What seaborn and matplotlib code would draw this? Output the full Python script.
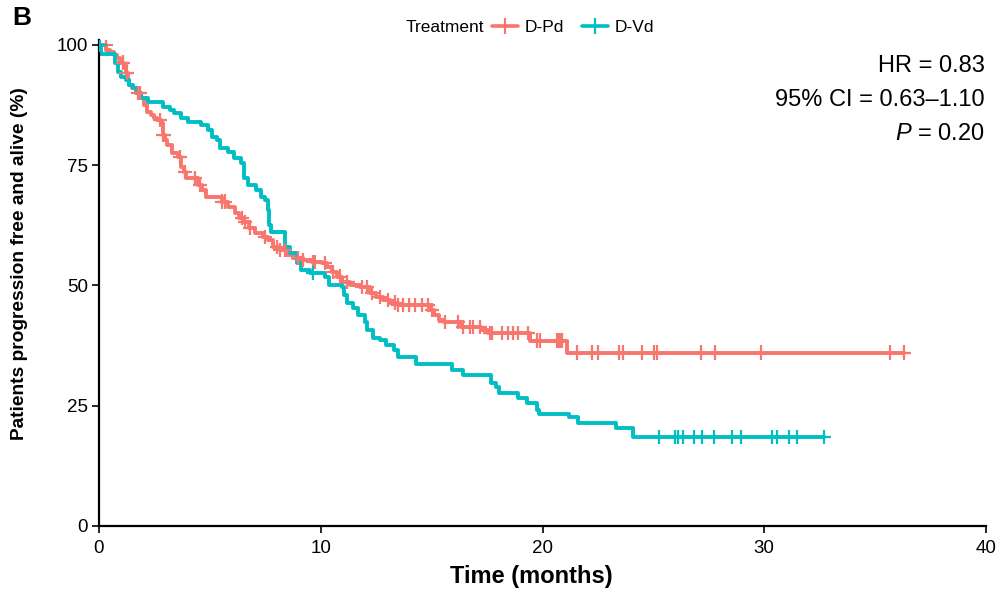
import numpy as np
import pandas as pd
import matplotlib
matplotlib.use("Agg")
import matplotlib.pyplot as plt
import seaborn as sns
from matplotlib.lines import Line2D

# ---------------- data ----------------
groups = ["D-Pd", "D-Vd"]
colors = {"D-Pd": "#F8766D", "D-Vd": "#00BFC4"}

# D-Pd step curve: time of each step (months) and survival after it (%)
pd_time = [0.0, 0.32, 0.5, 0.68, 0.81, 0.95, 1.13, 1.22, 1.29, 1.35, 1.49, 1.67, 1.89,
           2.03, 2.16, 2.34, 2.48, 2.62, 2.8, 2.89, 2.98, 3.07, 3.29, 3.56, 3.7, 3.83,
           3.92, 4.46, 4.64, 4.83, 5.55, 5.82, 6.13, 6.31, 6.54, 6.76, 7.03, 7.4, 7.62,
           7.85, 8.16, 8.43, 8.75, 9.15, 9.6, 10.06, 10.28, 10.5, 10.73, 10.96, 11.32,
           11.77, 12.22, 12.49, 12.81, 13.12, 13.48, 14.93, 15.11, 15.33, 15.56, 16.32,
           17.23, 17.54, 19.44, 21.1, 36.3]
pd_surv = [100.0, 99.0, 98.5, 97.9, 97.3, 96.3, 95.8, 94.2, 92.7, 91.7, 91.0, 90.0, 89.0,
           87.5, 86.0, 85.4, 84.8, 84.4, 83.8, 81.3, 80.2, 79.2, 77.5, 76.7, 74.6, 73.6,
           72.3, 70.9, 69.9, 68.4, 67.4, 66.3, 65.1, 64.0, 63.2, 62.0, 60.9, 60.1, 59.5,
           58.0, 57.4, 56.3, 55.7, 55.3, 54.9, 54.7, 53.8, 52.8, 51.8, 50.7, 50.1,
           49.7, 48.4, 47.6, 47.0, 46.4, 45.9, 44.9, 43.9, 42.8, 42.4, 41.4,
           40.7, 40.1, 38.5, 36.0, 36.0]
pd_censor = [0.3, 1.08, 1.25, 1.76, 1.85, 2.75, 2.9, 3.65, 3.88, 4.33, 4.55, 5.55, 5.68,
             6.45, 6.58, 6.8, 7.49, 8.03, 8.16, 8.39, 8.97, 9.2, 9.65, 9.74, 10.19, 10.55,
             10.87, 11.2, 11.86, 12.09, 12.31, 12.67, 13.03, 13.35, 13.48, 13.71, 14.0,
             14.25, 14.57, 14.84, 15.02, 15.6, 16.19, 16.42, 16.73, 16.87, 17.18, 17.63,
             17.72, 18.17, 18.44, 18.67, 18.9, 19.35, 19.75, 19.89, 20.65, 20.72, 20.79,
             20.86, 21.56, 22.23, 22.5, 23.45, 23.63, 24.49, 25.03, 25.16, 27.15, 27.78,
             29.85, 35.67, 36.3]

# D-Vd step curve
vd_time = [0.0, 0.1, 0.7, 0.85, 1.0, 1.2, 1.35, 1.55, 1.7, 1.9, 2.2, 2.9, 3.2, 3.4, 3.7,
           4.0, 4.6, 4.9, 5.1, 5.3, 5.45, 5.8, 6.1, 6.4, 6.55, 6.7, 7.1, 7.3, 7.5, 7.6,
           7.65, 7.75, 8.4, 8.6, 8.95, 9.1, 9.5, 10.2, 10.35, 10.95, 11.05, 11.2, 11.45,
           11.7, 12.0, 12.1, 12.35, 12.65, 12.95, 13.3, 13.5, 14.3, 15.9, 16.4, 17.7,
           17.9, 18.05, 18.9, 19.3, 19.75, 19.85, 21.2, 21.6, 23.3, 24.1, 32.7]
vd_surv = [100.0, 98.0, 96.2, 94.4, 93.3, 92.7, 91.7, 91.0, 90.0, 89.0, 88.1, 87.1, 86.5,
           85.9, 84.8, 84.0, 83.3, 82.3, 80.9, 80.2, 78.6, 77.8, 76.5, 75.5, 72.3, 70.9,
           69.9, 68.4, 67.8, 65.7, 62.6, 61.1, 58.0, 56.8, 54.6, 53.2, 52.6, 51.8, 50.1,
           49.7, 48.0, 46.4, 45.3, 43.9, 42.4, 40.7, 39.1, 38.7, 37.6, 36.6, 35.1, 33.6,
           32.4, 31.4, 29.7, 28.9, 27.6, 26.6, 25.6, 24.1, 23.3, 22.7, 21.4, 20.4, 18.5,
           18.5]
vd_censor = [0.05, 9.65, 25.25, 25.98, 26.1, 26.33, 26.83, 27.19, 27.73, 28.55, 28.95,
             30.35, 30.58, 31.11, 31.47, 32.7]

x_ticks = [0, 10, 20, 30, 40]
y_ticks = [0, 25, 50, 75, 100]
annot_lines = ["HR = 0.83", "95% CI = 0.63\u20131.10", "$P$ = 0.20"]

# ---------------- frames ----------------
def surv_at(times, st, ss):
    st = np.asarray(st); ss = np.asarray(ss)
    idx = np.searchsorted(st, np.asarray(times), side="right") - 1
    return ss[np.clip(idx, 0, len(ss) - 1)]

curves = pd.concat([
    pd.DataFrame({"time": pd_time, "surv": pd_surv, "Treatment": "D-Pd"}),
    pd.DataFrame({"time": vd_time, "surv": vd_surv, "Treatment": "D-Vd"}),
], ignore_index=True)
cens = pd.concat([
    pd.DataFrame({"time": pd_censor, "surv": surv_at(pd_censor, pd_time, pd_surv), "Treatment": "D-Pd"}),
    pd.DataFrame({"time": vd_censor, "surv": surv_at(vd_censor, vd_time, vd_surv), "Treatment": "D-Vd"}),
], ignore_index=True)

# ---------------- plot ----------------
sns.set_style("ticks")
plt.rcParams["font.family"] = ["Liberation Sans", "DejaVu Sans"]
plt.rcParams["mathtext.fontset"] = "custom"
plt.rcParams["mathtext.rm"] = "Liberation Sans"
plt.rcParams["mathtext.it"] = "Liberation Sans:italic"
for k in ["text.color", "axes.labelcolor", "xtick.color", "ytick.color", "axes.edgecolor"]:
    plt.rcParams[k] = "black"

fig = plt.figure(figsize=(10.06, 5.89), dpi=100)
ax = fig.add_axes([99 / 1006, 63 / 589, 887 / 1006, 486 / 589])

sns.lineplot(data=curves, x="time", y="surv", hue="Treatment", palette=colors,
             estimator=None, sort=False, drawstyle="steps-post", linewidth=2.8,
             legend=False, ax=ax)
sns.scatterplot(data=cens, x="time", y="surv", hue="Treatment", palette=colors,
                marker="+", s=110, linewidth=1.6, legend=False, ax=ax, zorder=3)

ax.set_xlim(0, 40)
ax.set_ylim(0, 101)
ax.set_xticks(x_ticks)
ax.set_yticks(y_ticks)
ax.set_xticklabels([str(v) for v in x_ticks], fontsize=13.5)
ax.set_yticklabels([str(v) for v in y_ticks], fontsize=13.5)
ax.tick_params(axis="both", length=5, width=1.2, color="black", labelcolor="black")
ax.tick_params(axis="x", pad=5)
ax.tick_params(axis="y", pad=3)
for sp in ["left", "bottom"]:
    ax.spines[sp].set_linewidth(1.6)
    ax.spines[sp].set_color("black")
sns.despine(ax=ax)

ax.set_xlabel("")
ax.set_ylabel("")
fig.text(531 / 1006, 1 - 576 / 589, "Time (months)", fontsize=17, fontweight="bold",
         ha="center", va="center")
fig.text(20 / 1006, 1 - 264 / 589, "Patients progression free and alive (%)",
         fontsize=13.8, fontweight="bold", rotation=90, ha="center", va="center")

# annotation
for i, txt in enumerate(annot_lines):
    fig.text(985 / 1006, 1 - (66 + 34 * i) / 589, txt, ha="right", va="center",
             fontsize=17)

# panel label
fig.text(12 / 1006, 1 - 18 / 589, "B", fontsize=19, fontweight="bold",
         ha="left", va="center")

# legend
fig.text(484 / 1006, 1 - 27 / 589, "Treatment", fontsize=12.5, ha="right", va="center")
handles = [Line2D([0], [0], color=colors[g], lw=2.6, marker="+", markersize=12,
                  markeredgewidth=1.6) for g in groups]
fig.legend(handles, groups, loc="center left", bbox_to_anchor=(492 / 1006, 1 - 27 / 589),
           ncol=2, frameon=False, fontsize=12.5, handlelength=1.5, handletextpad=0.4,
           columnspacing=1.0, borderaxespad=0, borderpad=0)

fig.savefig("out.png", dpi=100)
